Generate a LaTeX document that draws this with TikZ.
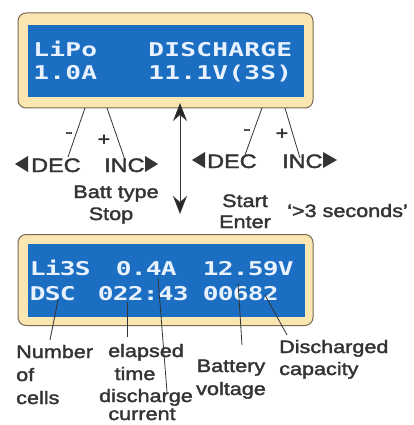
\documentclass[tikz,border=0pt]{standalone}
\usepackage{fontspec}
\usepackage{graphicx}
\setmainfont{Liberation Sans}
\newfontfamily\labfont[FakeStretch=1.2,FakeBold=2]{Liberation Sans}
\newfontfamily\lcdfont[FakeStretch=1.38]{DejaVu Sans Mono Bold}
\usetikzlibrary{arrows.meta}
\definecolor{lcdblue}{RGB}{27,110,194}
\definecolor{panelfill}{RGB}{250,230,177}
\definecolor{panelrim}{RGB}{122,106,85}
\definecolor{lcdtext}{RGB}{232,242,255}
\definecolor{labtext}{RGB}{52,52,52}
\newlength\lcdpitch
\makeatletter
\def\lcd@loop#1{\ifx#1\relax\else\hbox to\lcdpitch{\hss#1\hss}\expandafter\lcd@loop\fi}
\newcommand\lcdstr[2]{\setlength\lcdpitch{#1}\lcd@loop#2\relax}
\makeatother
\tikzset{
  panel/.style={draw=panelrim, fill=panelfill, line width=1pt, rounded corners=8pt, inner sep=0pt},
  screen/.style={fill=lcdblue, inner sep=0pt},
  lcd/.style={font=\lcdfont\fontsize{19}{19}\selectfont, text=lcdtext, inner sep=0pt, anchor=base west},
  lab/.style={font=\labfont\fontsize{18}{18}\selectfont, text=labtext, inner sep=0pt},
  big/.style={font=\labfont\fontsize{19.5}{19.5}\selectfont, text=labtext, inner sep=0pt, anchor=base west},
  leader/.style={draw=labtext, line width=0.8pt},
  tri/.style={fill=labtext},
}
\begin{document}
\begin{tikzpicture}[x=1pt,y=-1pt]
\useasboundingbox (0,0) rectangle (414,425);
\fill[white] (0,0) rectangle (414,425);

% ---- top panel
\node[panel, minimum width=295pt, minimum height=95pt] (toppanel) at (165.5,60.5) {};
\node[screen, minimum width=276pt, minimum height=72pt] (topscreen) at (166,61) {};
\node[lcd] (t1) at (33,57) {\lcdstr{16pt}{LiPo}};
\node[lcd] (t2) at (148,57) {\lcdstr{16pt}{DISCHARGE}};
\node[lcd] (t3) at (33,80) {\lcdstr{16pt}{1.0A}};
\node[lcd] (t4) at (148,80) {\lcdstr{16pt}{11.1V(3S)}};

% ---- top leaders
\coordinate (la1) at (85,108);  \coordinate (la2) at (68,157);
\coordinate (lb1) at (107,108); \coordinate (lb2) at (125,160);
\coordinate (ra1) at (262,108); \coordinate (ra2) at (245,155);
\coordinate (rb1) at (285,108); \coordinate (rb2) at (300,158);
\draw[leader] (la1) -- (la2);
\draw[leader] (lb1) -- (lb2);
\draw[leader] (ra1) -- (ra2);
\draw[leader] (rb1) -- (rb2);
\node[lab] (lminus) at (69,135) {-};
\node[lab] (lplus) at (104,140) {+};
\node[lab] (rminus) at (247,132) {-};
\node[lab] (rplus) at (282,134) {+};

% ---- DEC / INC
\fill[tri] (15,164) -- (28,156) -- (28,172) -- cycle;
\node[big] (ldec) at (31,172) {DEC};
\node[big] (linc) at (104,172) {INC};
\fill[tri] (158,164) -- (145,156) -- (145,172) -- cycle;
\fill[tri] (192,160) -- (205,152) -- (205,168) -- cycle;
\node[big] (rdec) at (207,168) {DEC};
\node[big] (rinc) at (282,168) {INC};
\fill[tri] (337,160) -- (323,152) -- (323,168) -- cycle;

% ---- double arrow
\coordinate (ua) at (180,103);
\coordinate (ub) at (180,214);
\draw[draw=labtext, line width=1pt,
  {Stealth[length=18pt,width=14pt,inset=6pt,fill=black!85]}-{Stealth[length=18pt,width=14pt,inset=6pt,fill=black!85]}] (ua) -- (ub);

% ---- button labels
\node[lab, anchor=base] (batt) at (116,198) {Batt type};
\node[lab, anchor=base] (stop) at (111,220) {Stop};
\node[lab, anchor=base] (start) at (245,207) {Start};
\node[lab, anchor=base] (enter) at (245,228) {Enter};
\node[lab, anchor=base west] (secs) at (287,217) {‘>3 seconds’};

% ---- bottom panel
\node[panel, minimum width=295pt, minimum height=91pt] (botpanel) at (165.5,280) {};
\node[screen, minimum width=277pt, minimum height=73pt] (botscreen) at (166.5,280) {};
\node[lcd] (b1) at (30,275) {\lcdstr{15pt}{Li3S}};
\node[lcd] (b2) at (116,275) {\lcdstr{15pt}{0.4A}};
\node[lcd] (b3) at (203,275) {\lcdstr{15pt}{12.59V}};
\node[lcd] (b4) at (30,300) {\lcdstr{15pt}{DSC}};
\node[lcd] (b5) at (98,300) {\lcdstr{15pt}{022:43}};
\node[lcd] (b6) at (203,300) {\lcdstr{15pt}{00682}};

% ---- bottom leaders
\coordinate (pa1) at (58,300);  \coordinate (pa2) at (50,340);
\coordinate (pb1) at (127,302); \coordinate (pb2) at (127,337);
\coordinate (pc1) at (158,278); \coordinate (pc2) at (167,392);
\coordinate (pd1) at (238,283); \coordinate (pd2) at (242,345);
\coordinate (pe1) at (265,295); \coordinate (pe2) at (287,335);
\draw[leader] (pa1) -- (pa2);
\draw[leader] (pb1) -- (pb2);
\draw[leader] (pc1) -- (pc2);
\draw[leader] (pd1) -- (pd2);
\draw[leader] (pe1) -- (pe2);

% ---- bottom labels
\node[lab, anchor=base west] (num) at (16,358) {Number};
\node[lab, anchor=base west] (of) at (16,381) {of};
\node[lab, anchor=base west] (cells) at (16,404) {cells};
\node[lab, anchor=base] (elap) at (146,357) {elapsed};
\node[lab, anchor=base] (time) at (135,380) {time};
\node[lab, anchor=base] (dis) at (146,402) {discharge};
\node[lab, anchor=base] (cur) at (142,420) {current};
\node[lab, anchor=base] (batv) at (231,372) {Battery};
\node[lab, anchor=base] (volt) at (231,395) {voltage};
\node[lab, anchor=base west] (dcap) at (279,353) {Discharged};
\node[lab, anchor=base west] (cap) at (279,375) {capacity};
\end{tikzpicture}
\end{document}
